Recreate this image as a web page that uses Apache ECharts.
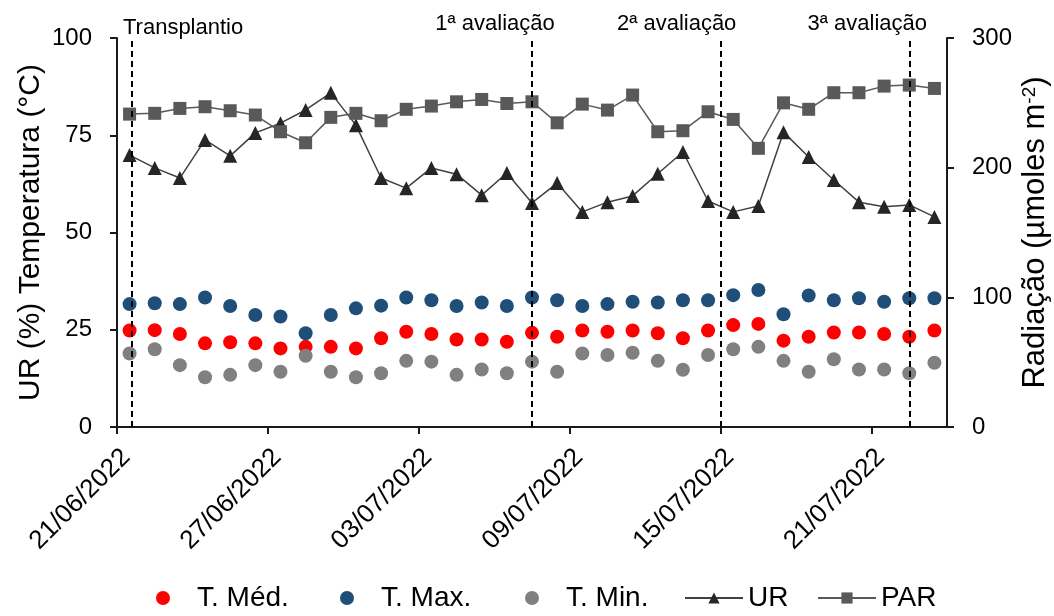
<!DOCTYPE html>
<html>
<head>
<meta charset="utf-8">
<script src="https://cdn.jsdelivr.net/npm/echarts@6/dist/echarts.min.js"></script>
<style>
  html, body { margin: 0; padding: 0; background: #ffffff; }
  #chart { width: 1054px; height: 616px; }
</style>
</head>
<body>
<div id="chart"></div>
<script>
// Dias de observação (21/06/2022 a 23/07/2022)
const dias = [
  '21/06/2022','22/06/2022','23/06/2022','24/06/2022','25/06/2022','26/06/2022','27/06/2022',
  '28/06/2022','29/06/2022','30/06/2022','01/07/2022','02/07/2022','03/07/2022','04/07/2022',
  '05/07/2022','06/07/2022','07/07/2022','08/07/2022','09/07/2022','10/07/2022','11/07/2022',
  '12/07/2022','13/07/2022','14/07/2022','15/07/2022','16/07/2022','17/07/2022','18/07/2022',
  '19/07/2022','20/07/2022','21/07/2022','22/07/2022','23/07/2022'
];

// Rótulos do eixo X (a cada 6 dias)
const rotulosX = ['21/06/2022', '27/06/2022', '03/07/2022', '09/07/2022', '15/07/2022', '21/07/2022'];

// Temperatura média, máxima e mínima (°C)
const tMed = [24.8, 24.9, 23.9, 21.5, 21.8, 21.5, 20.2, 20.6, 20.6, 20.2, 22.8,
              24.5, 23.9, 22.5, 22.5, 21.9, 24.2, 23.2, 24.8, 24.5, 24.8, 24.1,
              22.8, 24.8, 26.2, 26.5, 22.2, 23.2, 24.3, 24.3, 23.9, 23.2, 24.8];
const tMax = [31.6, 31.8, 31.6, 33.3, 31.1, 28.8, 28.4, 24.1, 28.8, 30.5, 31.2,
              33.3, 32.6, 31.1, 32.0, 31.1, 33.3, 32.6, 31.1, 31.6, 32.2, 32.0,
              32.6, 32.6, 33.9, 35.2, 29.0, 33.8, 32.6, 33.1, 32.2, 33.1, 33.1];
const tMin = [18.9, 20.0, 15.9, 12.8, 13.4, 15.9, 14.2, 18.3, 14.2, 12.8, 13.8,
              17.0, 16.8, 13.4, 14.8, 13.8, 16.8, 14.2, 18.9, 18.5, 19.1, 17.0,
              14.7, 18.5, 20.0, 20.6, 17.0, 14.2, 17.4, 14.8, 14.8, 13.8, 16.5];

// Umidade relativa (%)
const ur = [69.9, 66.6, 64.0, 73.8, 69.7, 75.6, 78.1, 81.5, 85.9, 77.6, 64.0,
            61.4, 66.6, 65.0, 59.6, 65.3, 57.6, 62.7, 55.3, 57.8, 59.4, 65.1,
            70.7, 58.1, 55.3, 56.8, 75.8, 69.4, 63.5, 57.8, 56.6, 57.1, 54.0];

// Radiação fotossinteticamente ativa (µmoles m-2)
const par = [241.3, 241.9, 245.7, 247.0, 243.9, 240.6, 227.7, 219.2, 238.8, 241.9, 236.2,
             245.0, 247.5, 250.8, 252.6, 249.5, 250.8, 234.6, 249.0, 244.4, 256.0, 227.7,
             228.5, 243.1, 237.2, 214.9, 250.0, 245.0, 257.8, 257.8, 262.9, 263.7, 261.1];

// Eventos do experimento (dias após 21/06/2022)
const eventos = ['Transplantio', '1ª avaliação', '2ª avaliação', '3ª avaliação'];
const eventoDia = [0.6, 16.5, 24.0, 31.5];

// Nomes da legenda
const nomesLegenda = ['T. Méd.', 'T. Max.', 'T. Min.', 'UR', 'PAR'];

// Cada dia ocupa uma unidade do eixo; o ponto fica no meio do dia
const pares = (vals) => vals.map((v, i) => [i + 0.5, v]);

const fonte = '"Liberation Sans", Arial, sans-serif';
const preto = '#000000';
const linhaEixo = { color: '#1a1a1a', width: 2 };

// Deslocamento dos textos dos eventos em relação à linha tracejada
const deslocRotulo = [[51, 1], [-37, -3], [-44, -3], [-42, -3]];

// Posição horizontal de cada entrada da legenda
const legendaLeft = [156, 340, 525, 684, 817];

const chart = echarts.init(document.getElementById('chart'), null, { renderer: 'canvas' });

chart.setOption({
  animation: false,
  backgroundColor: '#ffffff',
  textStyle: { fontFamily: fonte },
  grid: { left: 117, right: 107, top: 38, bottom: 189, outerBoundsMode: 'none', containLabel: false },
  xAxis: {
    type: 'value',
    min: 0,
    max: dias.length,
    interval: 6,
    splitLine: { show: false },
    axisLine: { onZero: false, lineStyle: linhaEixo },
    axisTick: { show: true, length: 7, lineStyle: linhaEixo },
    axisLabel: {
      rotate: 45,
      fontSize: 26,
      color: preto,
      margin: 17,
      align: 'right',
      verticalAlign: 'top',
      showMaxLabel: false,
      formatter: (v) => {
        const k = Math.round(v / 6);
        return (Math.abs(v - k * 6) < 1e-6 && k < rotulosX.length) ? rotulosX[k] : '';
      }
    }
  },
  yAxis: [
    {
      type: 'value',
      position: 'left',
      min: 0, max: 100, interval: 25,
      name: 'UR (%) Temperatura (°C)',
      nameLocation: 'middle',
      nameRotate: 90,
      nameGap: 71,
      nameMoveOverlap: false,
      nameTextStyle: { fontSize: 30, color: preto },
      splitLine: { show: false },
      axisLine: { show: true, lineStyle: linhaEixo },
      axisTick: { show: true, length: 7, lineStyle: linhaEixo },
      axisLabel: { fontSize: 24, color: preto, margin: 25 }
    },
    {
      type: 'value',
      position: 'right',
      min: 0, max: 300, interval: 100,
      name: 'Radiação (µmoles m{sup|-2})',
      nameLocation: 'middle',
      nameRotate: 90,
      nameGap: 73,
      nameMoveOverlap: false,
      nameTextStyle: {
        fontSize: 31, color: preto,
        rich: { sup: { fontSize: 19, verticalAlign: 'top', color: preto } }
      },
      splitLine: { show: false },
      axisLine: { show: true, lineStyle: linhaEixo },
      axisTick: { show: true, length: 7, lineStyle: linhaEixo },
      axisLabel: { fontSize: 24, color: preto, margin: 25 }
    }
  ],
  legend: nomesLegenda.map((nome, i) => ({
    left: legendaLeft[i],
    top: 584,
    padding: 0,
    itemWidth: 58,
    itemHeight: 14,
    textStyle: { fontSize: 28, color: preto },
    data: [nome]
  })),
  series: [
    {
      name: 'T. Méd.', type: 'scatter', yAxisIndex: 0,
      symbol: 'circle', symbolSize: 14,
      itemStyle: { color: '#ff0000', opacity: 1 },
      data: pares(tMed)
    },
    {
      name: 'T. Max.', type: 'scatter', yAxisIndex: 0,
      symbol: 'circle', symbolSize: 14,
      itemStyle: { color: '#1f4e79', opacity: 1 },
      data: pares(tMax)
    },
    {
      name: 'T. Min.', type: 'scatter', yAxisIndex: 0,
      symbol: 'circle', symbolSize: 14,
      itemStyle: { color: '#808080', opacity: 1 },
      data: pares(tMin)
    },
    {
      name: 'UR', type: 'line', yAxisIndex: 0,
      symbol: 'triangle', symbolSize: 14,
      itemStyle: { color: '#262626' },
      lineStyle: { color: '#404040', width: 1.5 },
      data: pares(ur)
    },
    {
      name: 'PAR', type: 'line', yAxisIndex: 1,
      symbol: 'rect', symbolSize: 13,
      itemStyle: { color: '#595959' },
      lineStyle: { color: '#595959', width: 1.5 },
      data: pares(par)
    },
    {
      name: 'eventos', type: 'line', yAxisIndex: 0, z: 5,
      data: [],
      markLine: {
        silent: true,
        symbol: ['none', 'none'],
        lineStyle: { color: '#000000', type: [6, 4], width: 2 },
        label: { show: true, position: 'end', distance: 0, fontSize: 22, color: preto },
        data: eventos.map((nome, i) => ({
          xAxis: eventoDia[i],
          label: { formatter: nome, offset: deslocRotulo[i] }
        }))
      }
    }
  ]
});
</script>
</body>
</html>
